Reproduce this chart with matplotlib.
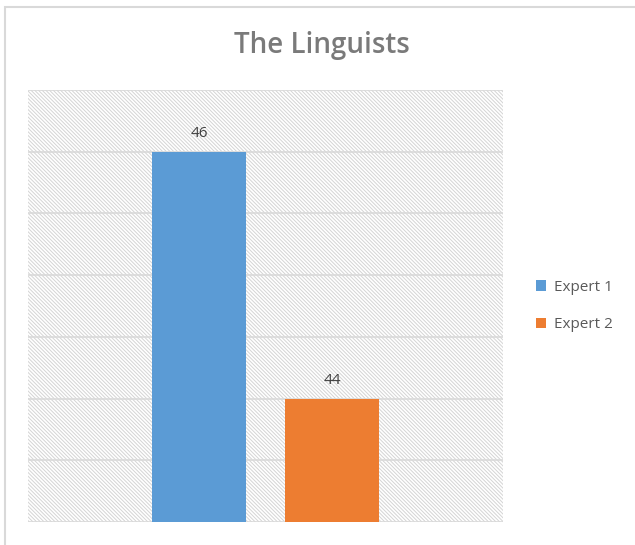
import numpy as np
import matplotlib.pyplot as plt
from matplotlib.patches import Rectangle

series = ["Expert 1", "Expert 2"]
scores = [46, 44]
colors = ["#5B9BD5", "#ED7D31"]
offsets = [-0.14, 0.14]
y_min, y_max, y_step = 43, 46.5, 0.5

plt.rcParams['font.family'] = ['Open Sans', 'DejaVu Sans']
plt.rcParams['hatch.linewidth'] = 0.7

fig = plt.figure(figsize=(6.35, 5.45), dpi=100)
ax = fig.add_axes([28 / 635, 1 - 522 / 545, 475 / 635, 432 / 545])

# outer chart frame (runs off the right and bottom edges)
fig.patches.append(Rectangle((5 / 635, -0.05), 1.1, 1 - 7 / 545 + 0.05,
                             transform=fig.transFigure, fill=False,
                             edgecolor='#d9d9d9', linewidth=1.5))

# hatched plot area
ax.add_patch(Rectangle((0, 0), 1, 1, transform=ax.transAxes, facecolor='white',
                       edgecolor='#d4d4d4', hatch='\\' * 9, linewidth=0, zorder=0))

for y in np.arange(y_min, y_max + 0.01, y_step):
    ax.axhline(y, color='#d9d9d9', linewidth=1.2, zorder=1)

for name, val, c, off in zip(series, scores, colors, offsets):
    ax.bar(off, val - y_min, bottom=y_min, width=0.196, color=c, label=name, zorder=2)
    ax.text(off, val + 0.15, str(val), ha='center', va='center',
            fontsize=11, color='#404040')

ax.set_xlim(-0.5, 0.5)
ax.set_ylim(y_min, y_max)
ax.set_xticks([])
ax.set_yticks([])
for s in ax.spines.values():
    s.set_visible(False)

fig.text(322 / 635, 1 - 45 / 545, "The Linguists", ha='center', va='center',
         fontsize=20, fontweight='semibold', color='#7a7a7a')

ax.legend(loc='center left', bbox_to_anchor=(1.04, 0.5), frameon=False,
          handlelength=0.7, handleheight=0.7, handletextpad=0.5,
          labelspacing=1.5, prop={'size': 11}, labelcolor='#595959')

fig.savefig('out.png', dpi=100)
